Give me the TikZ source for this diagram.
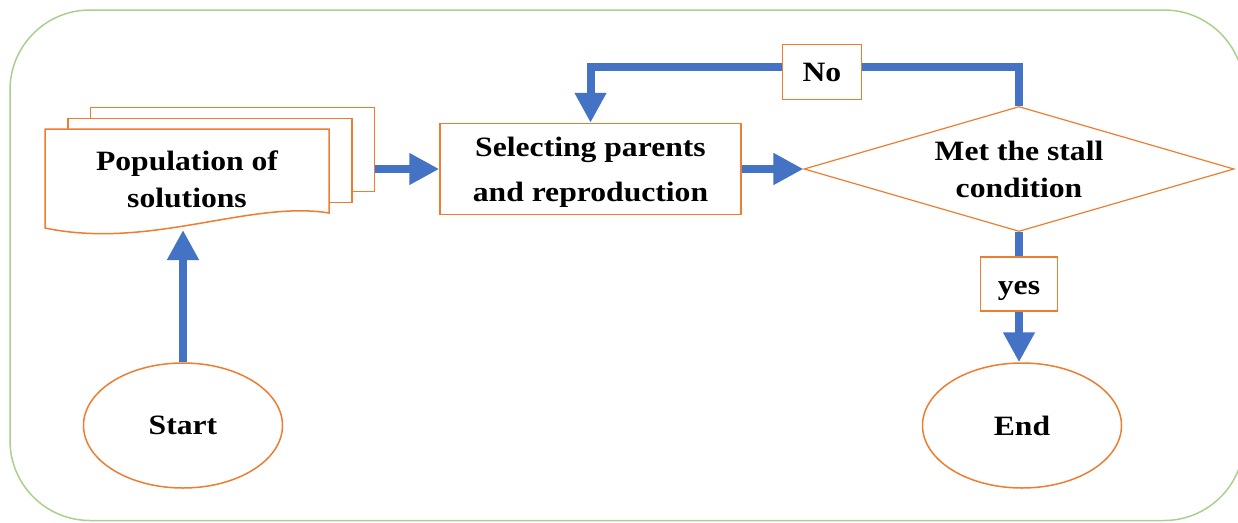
\documentclass[tikz,border=0pt]{standalone}
\usepackage{fontspec}
\setmainfont{Liberation Serif}[FakeStretch=1.13]
\usepackage{tikz}
\usetikzlibrary{positioning, arrows.meta, shapes.geometric, calc, backgrounds}
\definecolor{boxorange}{HTML}{ED7D31}
\definecolor{flowblue}{HTML}{4472C4}
\definecolor{framegreen}{HTML}{A9D18E}

\tikzset{
  txt/.style={font=\bfseries\fontsize{28}{37}\selectfont, align=center},
  sheet/.style={draw=boxorange, line width=1.5pt, fill=white, minimum width=284pt, minimum height=84pt, inner sep=0pt},
  process/.style={draw=boxorange, line width=1.5pt, minimum width=301pt, minimum height=91pt, inner sep=0pt, txt, font=\bfseries\fontsize{28}{45}\selectfont, text depth=0pt},
  terminal/.style={ellipse, draw=boxorange, line width=1.5pt, minimum width=199pt, minimum height=125pt, inner sep=0pt, txt},
  decision/.style={diamond, draw=boxorange, line width=1.2pt, minimum width=430pt, minimum height=125pt, inner sep=0pt},
  lbl/.style={draw=boxorange, line width=1.5pt, fill=white, txt, inner sep=0pt, text height=22pt, text depth=2pt},
  flow/.style={draw=flowblue, line width=8pt, -{Triangle[width=30pt,length=30pt]}}
}

\begin{document}
\begin{tikzpicture}[x=1pt, y=-1pt]
    \useasboundingbox (0,0) rectangle (1238,522);

    \node[txt, minimum width=284pt, minimum height=84pt] (pop) at (187,179) {Population of\\solutions};
    \node[process] (proc) at (590.5,169) {Selecting parents\\and reproduction};
    \node[decision] (dia) at (1019,169) {};
    \node[txt] (dialabel) at (dia.center) {Met the stall\\condition};
    \node[terminal] (start) at (183,425.5) {Start};
    \node[terminal] (end) at (1022,425.5) {End};

    \coordinate (popbase) at ($(pop.center)+(-4,51)$);
    \coordinate (looptop) at ($(proc.north)+(0,-56)$);

    % stacked sheets behind the text
    \begin{scope}[on background layer]
      \draw[framegreen, line width=1.5pt, rounded corners=80pt] (10,10) rectangle (1244,520.5);
      \node[sheet] (sheet3) at ($(pop.center)+(45.5,-29.5)$) {};
      \node[sheet] (sheet2) at ($(pop.center)+(23,-18.5)$) {};
      \draw[boxorange, line width=1.5pt, fill=white]
        ($(pop.center)+(-142,-50)$) -- ($(pop.center)+(142,-50)$) -- ($(pop.center)+(142,34)$)
        .. controls +(-79,-13) and +(105,22) .. ($(pop.center)+(-142,49)$) -- cycle;
    \end{scope}

    \draw[flow] (start.north) -- (popbase);
    \draw[flow] (sheet3.east |- proc.west) -- (proc.west);
    \draw[flow] (proc.east) -- (dia.west);
    \draw[flow] (dia.north) |- (looptop) node[lbl, pos=0.73, yshift=-5pt, minimum width=79pt, minimum height=55pt] (no) {No} -- (proc.north);
    \draw[flow] (dia.south) -- (dia.south |- end.north) node[lbl, pos=0.4, minimum width=77pt, minimum height=54pt] (yes) {yes};
\end{tikzpicture}
\end{document}
